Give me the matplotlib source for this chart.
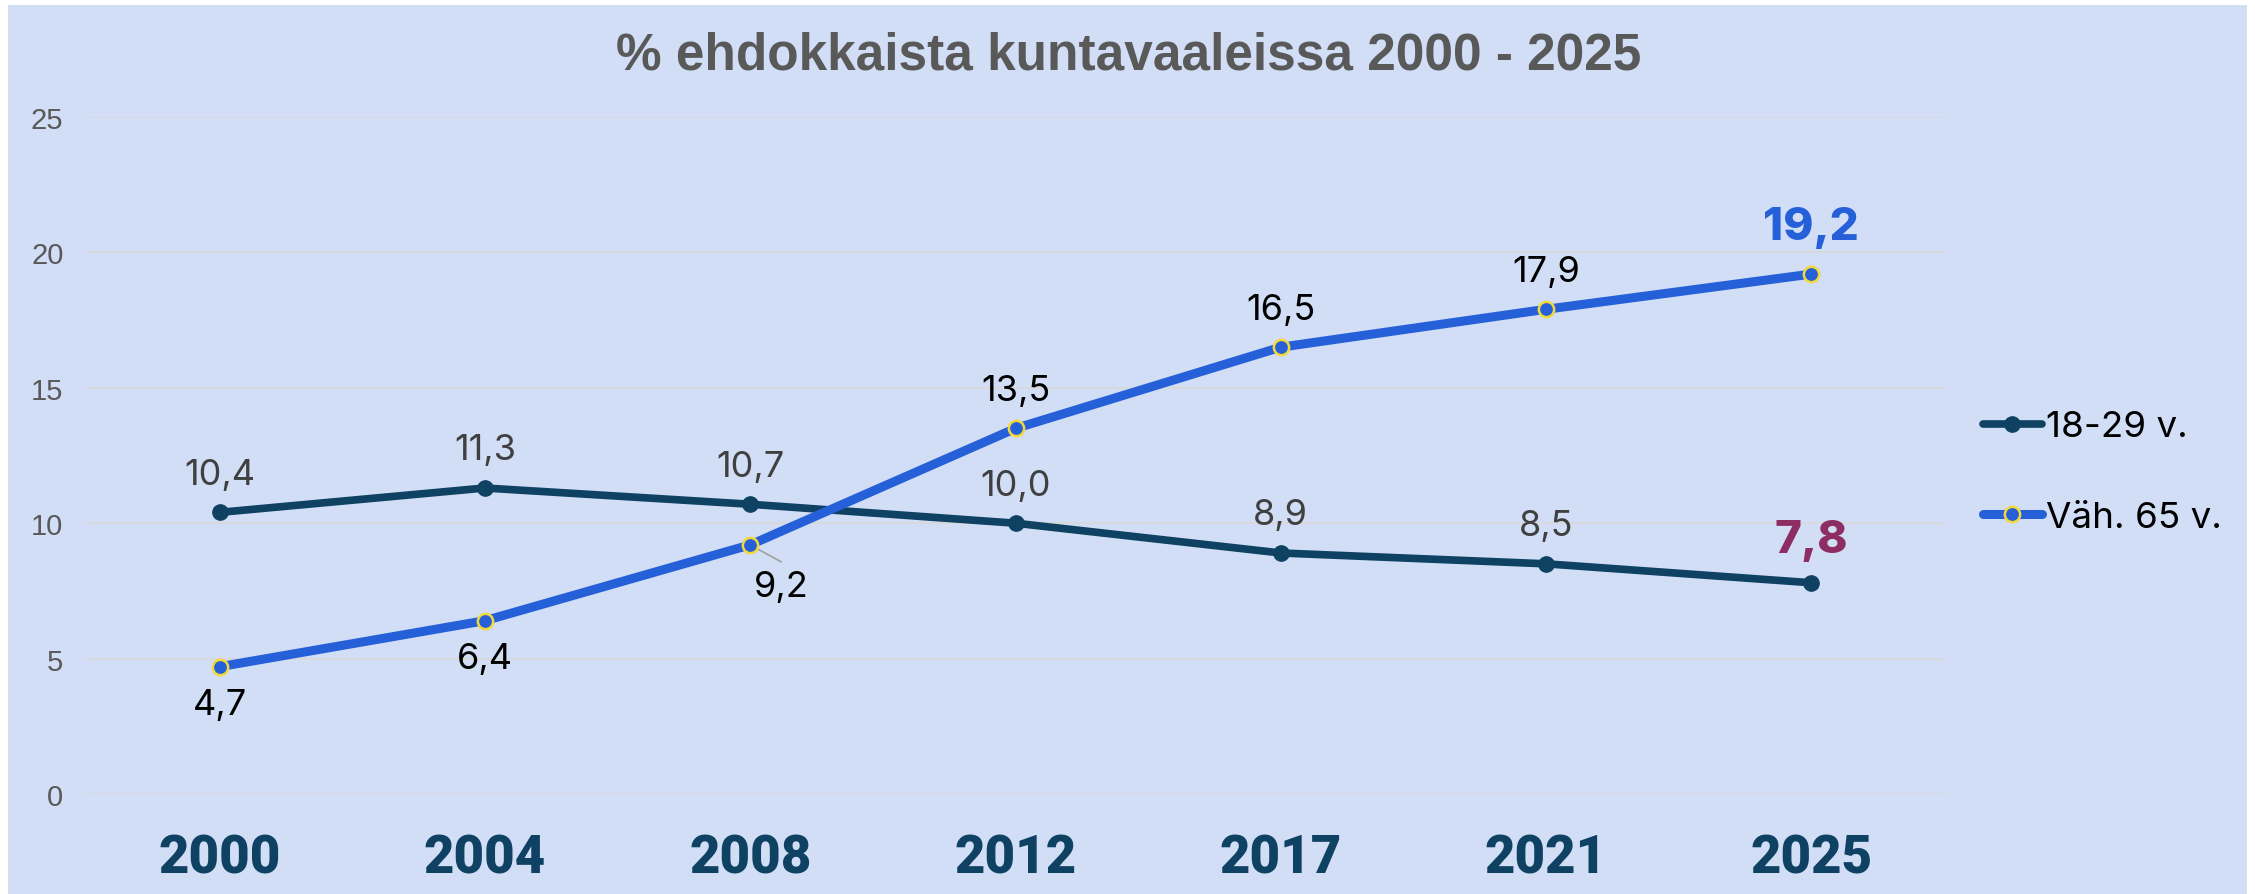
import matplotlib
matplotlib.use('Agg')
import matplotlib.pyplot as plt
from matplotlib.patches import Rectangle

# data
years = ['2000', '2004', '2008', '2012', '2017', '2021', '2025']
young = [10.4, 11.3, 10.7, 10.0, 8.9, 8.5, 7.8]
old = [4.7, 6.4, 9.2, 13.5, 16.5, 17.9, 19.2]
young_name = '18-29 v.'
old_name = 'Väh. 65 v.'
title = '% ehdokkaista kuntavaaleissa 2000 - 2025'

bg = '#D1DEF6'
navy = '#0E4162'
blue = '#2560D8'
yellow = '#F3D83B'

fig = plt.figure(figsize=(22.55, 8.95), dpi=100)
fig.patch.set_facecolor('white')
fig.patches.append(Rectangle((8 / 2255, 0), 2239 / 2255, 889 / 895,
                             transform=fig.transFigure, facecolor=bg,
                             edgecolor='none', zorder=-10))

ax = fig.add_axes([87 / 2255, 1 - 795 / 895, 1857 / 2255, 677 / 895])
ax.set_facecolor('none')
for s in ax.spines.values():
    s.set_visible(False)

x = list(range(len(years)))
ax.plot(x, young, color=navy, lw=5.5, marker='o', ms=11, mfc=navy, mec=navy,
        solid_capstyle='round', label=young_name, zorder=3)
ax.plot(x, old, color=blue, lw=6.5, marker='o', ms=11, mfc=blue, mec=yellow,
        mew=1.8, solid_capstyle='round', label=old_name, zorder=4)

ax.set_xlim(-0.5, 6.5)
ax.set_ylim(0, 25)
ax.set_yticks([0, 5, 10, 15, 20, 25])
ax.yaxis.grid(True, color='#D9D9D9', lw=1.2)
ax.set_axisbelow(True)
ax.tick_params(axis='y', length=0, pad=17, labelsize=21, labelcolor='#595959')
for t in ax.get_yticklabels():
    t.set_fontfamily('Liberation Sans')
ax.set_xticks(x)
ax.set_xticklabels(years)
ax.tick_params(axis='x', length=0, pad=28)
for t in ax.get_xticklabels():
    t.set_fontfamily(['Roboto', 'DejaVu Sans'])
    t.set_fontweight('black')
    t.set_fontsize(38)
    t.set_color(navy)


def fmt(v):
    return ('%.1f' % v).replace('.', ',')


# labels for 18-29 (all above)
for i, v in enumerate(young):
    if i == len(young) - 1:
        ax.annotate(fmt(v), (i, v), xytext=(0, 43), textcoords='offset pixels',
                    ha='center', va='center', fontsize=33, fontweight='heavy',
                    color='#8E2D63', family='Inter')
    else:
        ax.annotate(fmt(v), (i, v), xytext=(0, 38), textcoords='offset pixels',
                    ha='center', va='center', fontsize=26, color='#404040',
                    family='Inter')

# labels for 65+
for i, v in enumerate(old):
    if i == len(old) - 1:
        ax.annotate(fmt(v), (i, v), xytext=(0, 47), textcoords='offset pixels',
                    ha='center', va='center', fontsize=33, fontweight='heavy',
                    color=blue, family='Inter')
    elif i == 2:
        ax.annotate(fmt(v), (i, v), xytext=(31, -42), textcoords='offset pixels',
                    ha='center', va='center', fontsize=26, color='black',
                    family='Inter')
        ax.annotate('', (i, v), xytext=(31, -17), textcoords='offset pixels',
                    arrowprops=dict(arrowstyle='-', color='#A0A0A0', lw=1.2,
                                    shrinkA=0, shrinkB=2))
    elif i < 2:
        ax.annotate(fmt(v), (i, v), xytext=(0, -38), textcoords='offset pixels',
                    ha='center', va='center', fontsize=26, color='black',
                    family='Inter')
    else:
        ax.annotate(fmt(v), (i, v), xytext=(0, 38), textcoords='offset pixels',
                    ha='center', va='center', fontsize=26, color='black',
                    family='Inter')

leg = ax.legend(loc='center left', bbox_to_anchor=(1983 / 2255, 1 - 473 / 895),
                bbox_transform=fig.transFigure, frameon=False, borderpad=0,
                borderaxespad=0, handlelength=1.6, handletextpad=0.12,
                labelspacing=1.55, prop={'family': 'Inter', 'size': 26.5})
for t in leg.get_texts():
    t.set_color('black')

fig.text(1129 / 2255, 1 - 56 / 895, title, ha='center', va='center',
         fontsize=37, fontweight='bold', color='#595959', family='Liberation Sans')

fig.savefig('out.png', dpi=100)
